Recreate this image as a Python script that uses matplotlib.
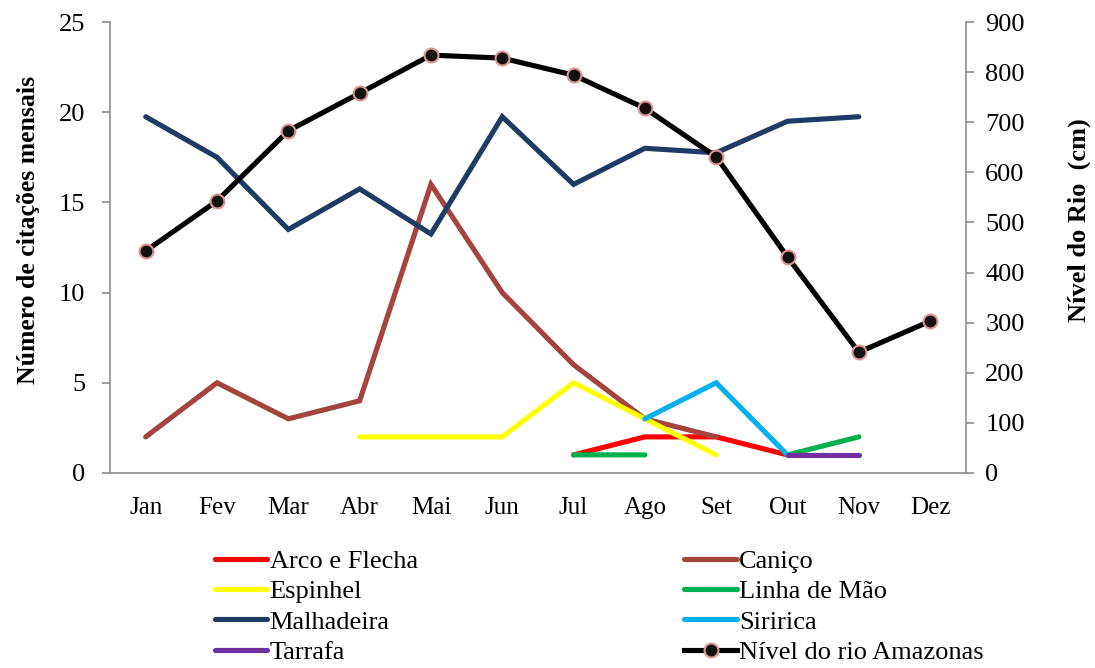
import numpy as np
import matplotlib
matplotlib.use('Agg')
import matplotlib.pyplot as plt
from matplotlib.lines import Line2D

plt.rcParams['font.family'] = ['Liberation Serif', 'DejaVu Serif']

nan = np.nan
meses = ['Jan', 'Fev', 'Mar', 'Abr', 'Mai', 'Jun', 'Jul', 'Ago', 'Set', 'Out', 'Nov', 'Dez']

arco_flecha = [nan, nan, nan, nan, nan, nan, 1, 2, 2, 1, nan, nan]
canico      = [2, 5, 3, 4, 16, 10, 6, 3, 2, nan, nan, nan]
espinhel    = [nan, nan, nan, 2, 2, 2, 5, 3, 1, nan, nan, nan]
linha_mao   = [nan, nan, nan, nan, nan, nan, 1, 1, nan, 1, 2, nan]
malhadeira  = [19.75, 17.5, 13.5, 15.75, 13.25, 19.75, 16, 18, 17.75, 19.5, 19.75, nan]
siririca    = [nan, nan, nan, nan, nan, nan, nan, 3, 5, 1, nan, nan]
tarrafa     = [nan, nan, nan, nan, nan, nan, nan, nan, nan, 1, 1, nan]
nivel_rio   = [443, 543, 683, 758, 834, 828, 794, 728, 631, 431, 241, 303]

series = [
    ('Arco e Flecha', arco_flecha, '#FF0000'),
    ('Caniço', canico, '#A5443F'),
    ('Espinhel', espinhel, '#FFFF00'),
    ('Linha de Mão', linha_mao, '#00B050'),
    ('Malhadeira', malhadeira, '#1F3B63'),
    ('Siririca', siririca, '#00B0F0'),
    ('Tarrafa', tarrafa, '#7030A0'),
]

fig = plt.figure(figsize=(10.95, 6.68), dpi=100)
ax = fig.add_axes([0.1005, 0.292, 0.7815, 0.675])
ax2 = ax.twinx()

x = np.arange(len(meses))
lw = 3.7
handles = {}
for nome, vals, cor in series:
    ln, = ax.plot(x, vals, color=cor, lw=lw, solid_capstyle='round',
                  solid_joinstyle='miter', label=nome)
    handles[nome] = ln

nv, = ax2.plot(x, nivel_rio, color='black', lw=lw, marker='o', markersize=10,
               markerfacecolor='#111111', markeredgecolor='#D99694',
               markeredgewidth=1.5, label='Nível do rio Amazonas')
handles['Nível do rio Amazonas'] = nv

ax.set_xlim(-0.5, 11.5)
ax.set_ylim(0, 25)
ax.set_yticks(range(0, 26, 5))
ax2.set_ylim(0, 900)
ax2.set_yticks(range(0, 901, 100))
ax.set_xticks(x)
ax.set_xticklabels(meses)

for a in (ax, ax2):
    for s in a.spines.values():
        s.set_color('#8C8C8C')
        s.set_linewidth(1.2)
    a.spines['top'].set_visible(False)
ax.spines['right'].set_visible(False)
ax2.spines['left'].set_visible(False)
ax2.spines['bottom'].set_visible(False)

ax.tick_params(axis='y', length=6, width=1.2, color='#8C8C8C', labelsize=19, pad=12)
ax.tick_params(axis='x', length=0, labelsize=18, pad=17)
ax2.tick_params(axis='y', length=6, width=1.2, color='#8C8C8C', labelsize=19, pad=8)

ax.set_ylabel('Número de citações mensais', fontsize=18.5, fontweight='bold')
ax.yaxis.set_label_coords(-0.082, 0.54)
ax2.set_ylabel('Nível do Rio  (cm)', fontsize=19, fontweight='bold')
ax2.yaxis.set_label_coords(1.119, 0.56)

ordem = ['Arco e Flecha', 'Espinhel', 'Malhadeira', 'Tarrafa',
         'Caniço', 'Linha de Mão', 'Siririca', 'Nível do rio Amazonas']
leg_handles = []
for nome in ordem:
    h = handles[nome]
    if nome == 'Nível do rio Amazonas':
        leg_handles.append(Line2D([], [], color='black', lw=lw, marker='o', markersize=10,
                                  markerfacecolor='#111111', markeredgecolor='#D99694',
                                  markeredgewidth=1.5))
    else:
        leg_handles.append(Line2D([], [], color=h.get_color(), lw=lw, solid_capstyle='round'))

fig.legend(leg_handles, ordem, ncol=2, loc='upper left', bbox_to_anchor=(0.196, 0.177),
           frameon=False, fontsize=19, handlelength=2.0, handletextpad=0.08,
           columnspacing=10.1, labelspacing=0.255, borderaxespad=0, borderpad=0)

fig.savefig('out.png', dpi=100, facecolor='white')
